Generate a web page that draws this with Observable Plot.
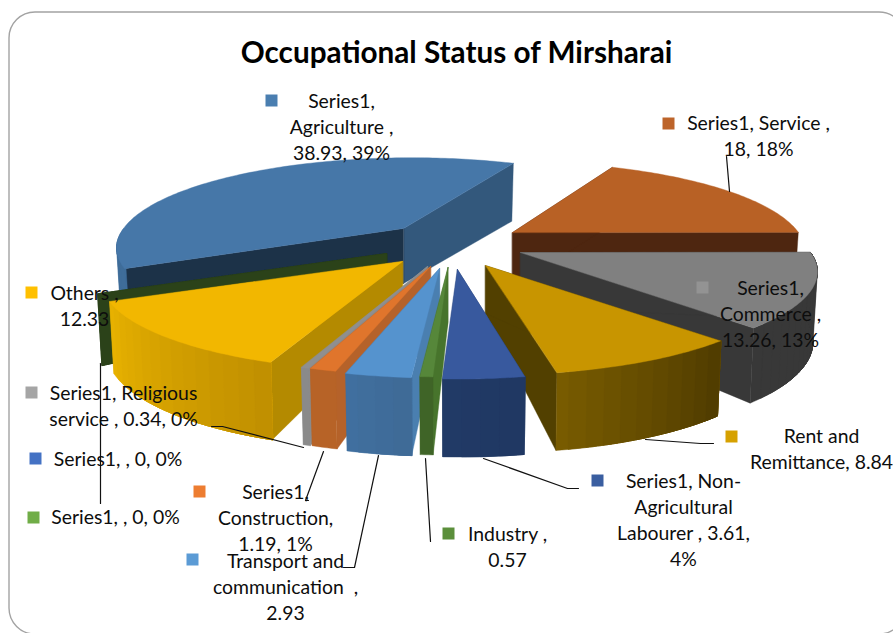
<!DOCTYPE html>
<html><head><meta charset="utf-8">
<script src="https://cdn.jsdelivr.net/npm/d3@7"></script>
<script src="https://cdn.jsdelivr.net/npm/@observablehq/plot@0.6"></script>
<style>html,body{margin:0;padding:0;background:#fff;overflow:hidden}svg{display:block}</style>
</head><body><div id="chart"></div>
<script>
// ---- data ----
const categories = ["Service","Commerce","Rent and Remittance","Non-Agricultural Labourer","Industry","Transport and communication","Construction","Religious service","Others","(blank a)","(blank b)","Agriculture"];
const values = [18,13.26,8.84,3.61,0.57,2.93,1.19,0.34,12.33,0,0,38.93];
const labelLines = [
  ["Series1, Service ,","18, 18%"],
  ["Series1,","Commerce ,","13.26, 13%"],
  ["Rent and","Remittance, 8.84"],
  ["Series1, Non-","Agricultural","Labourer , 3.61,","4%"],
  ["Industry ,","0.57"],
  ["Transport and","communication  ,","2.93"],
  ["Series1,","Construction,","1.19, 1%"],
  ["Series1, Religious","service , 0.34, 0%"],
  ["Others ,","12.33"],
  ["Series1, , 0, 0%"],
  ["Series1, , 0, 0%"],
  ["Series1,","Agriculture ,","38.93, 39%"]
];
const chartTitle = "Occupational Status of Mirsharai";

// ---- layout ----
const apexX = [512,520,485,457,447.5,439,430,427,402,386,386,403];
const apexY = [232,252,265,269,267,268,266,266,261,253,253,228];
const rimShift = [-2,2,4,0,0,0,-1,0,-6,-2,-2,8];
const apexDepth = [55,55,48,55,55,57,55,55,50,50,50,55];
const paintOrder = [0,11,9,10,1,8,2,7,6,5,3,4];
const labelX = [758,770,821,683,507,285,275,123,84,117.5,115,341];
const labelY = [123,288,436,481,534,561,492,393,293,459,517,101];
const keyX = [668,702,731,597,448,192,199,31,31,35,33,271];
const keyY = [123,287,436,480,533,559,491,392,292,458,517,100];
const leaderRuns = [
  [[726,156],[729,191]],
  [],
  [[645,439],[700,443],[713,443]],
  [[483,458],[567,488],[578,488]],
  [[425,458],[430,541]],
  [[378,455],[354,567],[343,567]],
  [[323,451],[305,500],[308,500]],
  [[303,447],[222,426],[211,426]],
  [[100,363],[100,503]],
  [],[],[]
];
// ---- styles ----
const topFill  = ["#b86125","#808080","#c89500","#38599e","#56873a","#5593ce","#e0752c","#8f8f8f","#f2b700",null,null,"#4677a8"];
const rimFrom  = ["#4e2610","#383838","#7a5c00","#213a66","#3f6427","#4070a0","#b96528","#8a8a8a","#e8b200",null,null,"#3f6d99"];
const rimTo    = ["#4e2610","#383838","#4f3c00","#203863","#3f6427","#3f6a96","#b46026","#8a8a8a","#c08f00",null,null,"#3f6d99"];
const faceFrom = ["#4e2610","#383838","#524000","#213a66","#47742c","#4a7fb0","#b5622a","#8a8a8a","#b48a00","#2b4219","#2b4219","#1c3248"];
const faceTo   = ["#4e2610","#383838","#524000","#213a66","#3f6427","#4070a0","#b96528","#8a8a8a","#e8b200","#2b4219","#2b4219","#33587c"];
const keyFill  = ["#bd642a","#939393","#d6a100","#3a5ea0","#5b8f3b","#5b9bd5","#ed7d31","#a5a5a5","#ffc000","#4472c4","#70ad47","#4a7eb0"];

// ---- projection of a wedge from its value ----
const rotation = 25, R = 288, Ry = 86, k = 0.215;
const total = d3.sum(values);
const rad = Math.PI / 180;
function rimPoint(i, deg) {
  const X = Math.sin(deg * rad), Y = -Math.cos(deg * rad), s = 1 / (1 - k * Y);
  const cx = apexX[i] + rimShift[i];
  const x = cx + R * X * s, y = apexY[i] + Ry * Y * s;
  const dep = 67.5 + 10.5 * Y;
  return {x, y, xb: cx + R * X * s * 0.985, yb: y + dep};
}
let acc = rotation;
const spans = values.map(v => { const a = acc; acc += v / total * 360; return [a, acc]; });

const polys = [];
let pid = 0;
function addPoly(pts, fill) {
  const id = pid++;
  pts.forEach(p => polys.push({id, x: p[0], y: p[1], fill}));
}
function face(i, deg, fill) {
  const p = rimPoint(i, deg);
  addPoly([[apexX[i],apexY[i]],[p.x,p.y],[p.xb,p.yb],[apexX[i],apexY[i]+apexDepth[i]]], fill);
}
for (const i of paintOrder) {
  const [a0, a1] = spans[i];
  face(i, a1, faceTo[i]);
  face(i, a0, faceFrom[i]);
  if (a1 - a0 <= 0) continue;
  // outer wall: only the near half of the rim shows (angles 90 to 270)
  const w0 = Math.max(a0, 90), w1 = Math.min(a1, 270);
  if (w1 > w0) {
    const m = Math.max(2, Math.ceil(w1 - w0));
    const wall = d3.range(m + 1).map(j => rimPoint(i, w0 + (w1 - w0) * j / m));
    const n = Math.max(1, Math.round((w1 - w0) / 3));
    const mix = d3.interpolateRgb(rimFrom[i], rimTo[i]);
    // each band runs back to the wedge's far end, so the next overpaints it with no seam
    for (let j = n - 1; j >= 0; j--) {
      const end = Math.ceil(m * (j + 1) / n);
      const from = wall.slice(0, end + 1);
      addPoly([...from.map(p => [p.x, p.y]), ...from.slice().reverse().map(p => [p.xb, p.yb])], mix(1 - (j + 0.5) / n));
    }
  }
  // top surface
  const m2 = Math.max(2, Math.ceil(a1 - a0));
  const arc = d3.range(m2 + 1).map(j => rimPoint(i, a0 + (a1 - a0) * j / m2));
  addPoly([[apexX[i],apexY[i]], ...arc.map(p => [p.x, p.y])], topFill[i]);
}

const leaders = leaderRuns.flatMap((run, i) => run.map(p => ({i, x: p[0], y: p[1]})));
const labels = labelLines.flatMap((lines, i) => lines.map((t, j) => ({t, x: labelX[i], y: labelY[i] + j * 26})));
const keys = categories.map((c, i) => ({c, x: keyX[i], y: keyY[i], fill: keyFill[i]}));
const frame = [{x1: 9, x2: 905, y1: 12, y2: 634}];

const plot = Plot.plot({
  width: 893, height: 633, margin: 0,
  x: {domain: [0, 893], range: [0, 893], axis: null},
  y: {domain: [0, 633], range: [0, 633], axis: null},
  style: {background: "#fff", fontFamily: "Lato"},
  marks: [
    Plot.rect(frame, {x1: "x1", x2: "x2", y1: "y1", y2: "y2", fill: "#fff", stroke: "#a3a3a3", strokeWidth: 1.4, rx: 26}),
    Plot.line(polys, {x: "x", y: "y", z: "id", curve: "linear-closed",
      fill: {value: "fill", scale: null}, stroke: {value: "fill", scale: null}, strokeWidth: 0.4}),
    Plot.line(leaders, {x: "x", y: "y", z: "i", stroke: "#111", strokeWidth: 1.2}),
    Plot.dot(keys, {x: "x", y: "y", symbol: "square", r: 6.77, fill: {value: "fill", scale: null}}),
    Plot.text(labels, {x: "x", y: "y", text: "t", fontSize: 19.4, fontFamily: "Lato", fill: "#0d0d0d", textAnchor: "middle"}),
    Plot.text([chartTitle], {x: () => 456, y: () => 53, fontSize: 29.7, fontWeight: 700, fontFamily: "Lato", fill: "#000", textAnchor: "middle"})
  ]
});
document.getElementById("chart").append(plot);
</script>
</body></html>
